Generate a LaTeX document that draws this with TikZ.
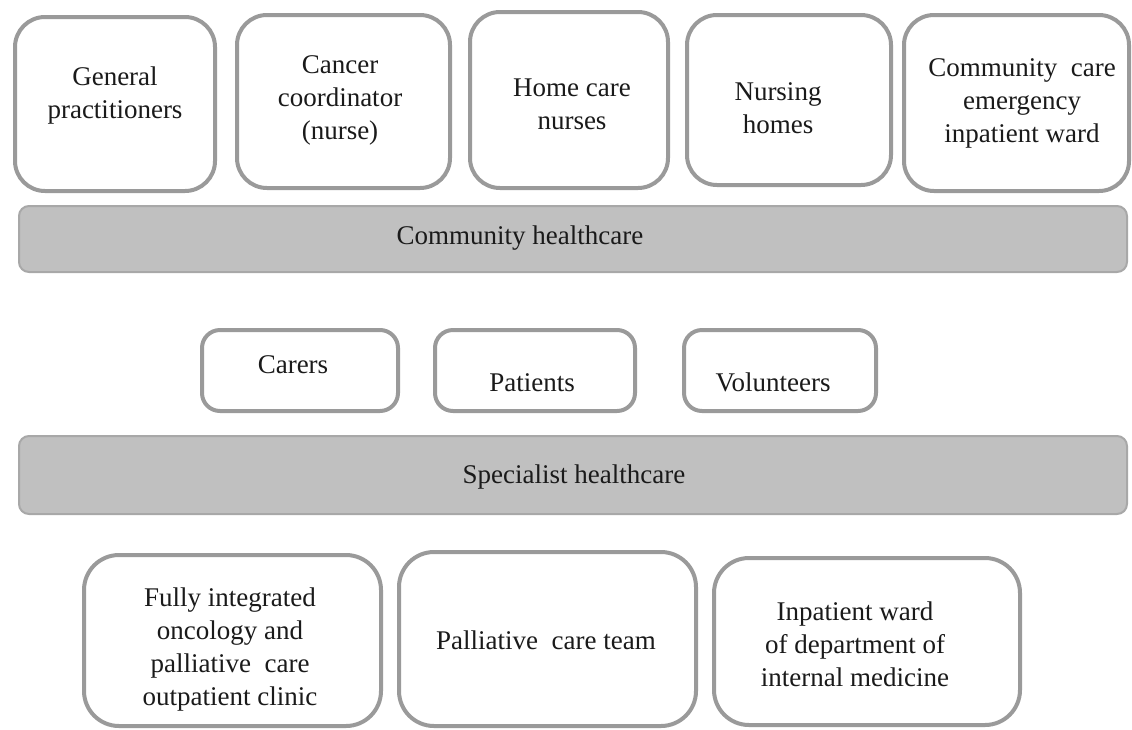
\documentclass[tikz,border=0pt]{standalone}
\usepackage{fontspec}
\setmainfont{Liberation Serif}
\definecolor{edgegray}{HTML}{9A9A9A}
\definecolor{barfill}{HTML}{C0C0C0}
\definecolor{baredge}{HTML}{A8A8A8}
\definecolor{ink}{HTML}{1A1A1A}
\begin{document}
\begin{tikzpicture}[x=1pt,y=-1pt,
  box/.style={draw=edgegray, line width=4pt, fill=white, rounded corners=#1, inner sep=0pt},
  bar/.style={draw=baredge, line width=2pt, fill=barfill, rounded corners=10pt, inner sep=0pt},
  lbl/.style={font=\fontsize{27}{33}\selectfont, align=center, inner sep=0pt, text=ink}
]
\useasboundingbox (0,0) rectangle (1132,729);
% top row
\node[box=30pt, minimum width=200pt, minimum height=174pt] (gpbox) at (115,104) {};
\node[box=30pt, minimum width=213pt, minimum height=173pt] (ccbox) at (343.5,101.5) {};
\node[box=30pt, minimum width=198pt, minimum height=176pt] (hcbox) at (569,100) {};
\node[box=30pt, minimum width=204pt, minimum height=170pt] (nhbox) at (789,100) {};
\node[box=30pt, minimum width=225pt, minimum height=176pt] (cebox) at (1016.5,103) {};
\node[lbl] (gp) at (115,96) {General\\practitioners};
\node[lbl] (cc) at (340,100) {Cancer\\coordinator\\(nurse)};
\node[lbl] (hc) at (572,104) {Home care\\nurses};
\node[lbl] (nh) at (778,108) {Nursing\\homes};
\node[lbl] (ce) at (1022,103) {Community\ \ care\\emergency\\inpatient ward};
% community bar
\node[bar, minimum width=1108pt, minimum height=66pt] (combar) at (573,239) {};
\node[lbl] (comtext) at (520,238) {Community healthcare};
% middle row
\node[box=18pt, minimum width=196pt, minimum height=81pt] (carbox) at (300,370.5) {};
\node[box=18pt, minimum width=200pt, minimum height=81pt] (patbox) at (535,370.5) {};
\node[box=18pt, minimum width=192pt, minimum height=81pt] (volbox) at (780,370.5) {};
\node[lbl] (car) at (293,365) {Carers};
\node[lbl] (pat) at (532,383) {Patients};
\node[lbl] (vol) at (773,382) {Volunteers};
% specialist bar
\node[bar, minimum width=1108pt, minimum height=78pt] (spbar) at (573,475) {};
\node[lbl] (sptext) at (574,477) {Specialist healthcare};
% bottom row
\node[box=35pt, minimum width=297pt, minimum height=171pt] (fibox) at (232.5,640.5) {};
\node[box=35pt, minimum width=297pt, minimum height=174pt] (pcbox) at (547.5,639) {};
\node[box=35pt, minimum width=306pt, minimum height=167pt] (iwbox) at (867,641.5) {};
\node[lbl] (fi) at (230,649) {Fully integrated\\oncology and\\palliative\ \ care\\outpatient clinic};
\node[lbl] (pc) at (546,640) {Palliative\ \ care team};
\node[lbl] (iw) at (855,644) {Inpatient ward\\of department of\\internal medicine};
\end{tikzpicture}
\end{document}
